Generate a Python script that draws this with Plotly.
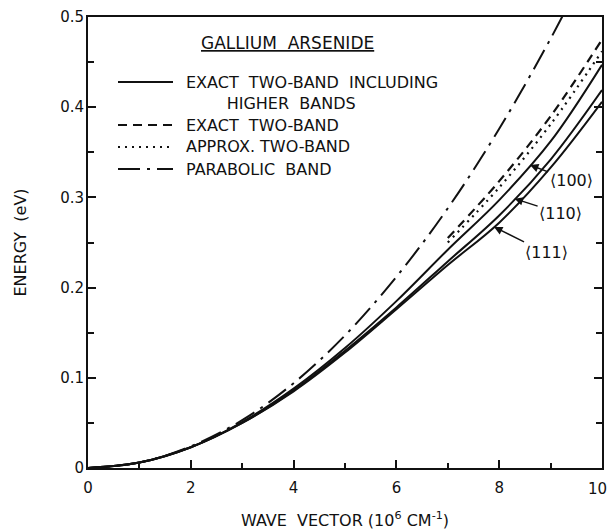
import numpy as np
import plotly.graph_objects as go

# ---- data ----
k_parabolic = [0, 1, 2, 3, 4, 5, 6, 7, 8, 9, 9.5]
e_parabolic = [0, 0.006, 0.024, 0.053, 0.094, 0.147, 0.212, 0.288, 0.376, 0.476, 0.531]

k_dir = [0, 1, 2, 3, 4, 5, 6, 7, 8, 9, 10]
e_100 = [0, 0.006, 0.023, 0.051, 0.088, 0.133, 0.185, 0.242, 0.297, 0.362, 0.447]
e_110 = [0, 0.006, 0.023, 0.050, 0.086, 0.130, 0.178, 0.229, 0.280, 0.342, 0.419]
e_111 = [0, 0.006, 0.023, 0.050, 0.085, 0.128, 0.176, 0.225, 0.272, 0.333, 0.406]

k_two = [7, 8, 9, 10]
e_exact_two = [0.255, 0.318, 0.390, 0.475]
e_approx_two = [0.250, 0.311, 0.381, 0.462]

dir_labels = ["⟨100⟩", "⟨110⟩", "⟨111⟩"]
dir_k = [8.6, 8.3, 7.9]

x_ticks = [0, 2, 4, 6, 8, 10]
x_tick_labels = ["0", "2", "4", "6", "8", "10"]
y_ticks = [0, 0.1, 0.2, 0.3, 0.4, 0.5]

legend_title = "GALLIUM  ARSENIDE"
legend_labels = ["EXACT  TWO-BAND  INCLUDING", "EXACT  TWO-BAND",
                 "APPROX. TWO-BAND", "PARABOLIC  BAND"]
legend_label_cont = "HIGHER  BANDS"

FONT = "DejaVu Sans"
INK = "#111111"
NB = "\u00a0"

DASH_SOLID = "solid"
DASH_EXACT = "9px,6px"
DASH_APPROX = "2px,5px"
DASH_PARAB = "22px,7px,3px,7px"

fig = go.Figure()

fig.add_trace(go.Scatter(
    x=k_parabolic, y=e_parabolic, mode="lines", name=legend_labels[3],
    line=dict(color=INK, width=2, dash=DASH_PARAB, shape="spline"),
    showlegend=False))
fig.add_trace(go.Scatter(
    x=k_two, y=e_exact_two, mode="lines", name=legend_labels[1],
    line=dict(color=INK, width=2.2, dash=DASH_EXACT, shape="spline"),
    showlegend=False))
fig.add_trace(go.Scatter(
    x=k_two, y=e_approx_two, mode="lines", name=legend_labels[2],
    line=dict(color=INK, width=2.2, dash=DASH_APPROX, shape="spline"),
    showlegend=False))
for lab, e in zip(dir_labels, [e_100, e_110, e_111]):
    fig.add_trace(go.Scatter(
        x=k_dir, y=e, mode="lines", name=legend_labels[0] + " " + lab,
        line=dict(color=INK, width=2, shape="spline"), showlegend=False))

# direction labels with arrows pointing at the curves
offsets = [(41, 16), (46, 15), (52, 26)]
for lab, kk, e, (ax, ay) in zip(dir_labels, dir_k, [e_100, e_110, e_111], offsets):
    fig.add_annotation(
        x=kk, y=float(np.interp(kk, k_dir, e)), text=lab,
        showarrow=True, arrowhead=2, arrowsize=1.2, arrowwidth=1.4,
        arrowcolor=INK, ax=ax, ay=ay, xanchor="center", yanchor="middle",
        font=dict(family=FONT, size=16, color=INK))

# ---- key drawn inside the plot (paper coordinates) ----
def px_x(p):
    return (p - 88) / 514.0

def px_y(p):
    return (468 - p) / 451.0

KEY_FONT = 16

fig.add_annotation(
    xref="paper", yref="paper", x=px_x(287), y=px_y(43), text=legend_title,
    showarrow=False, xanchor="center", yanchor="middle",
    font=dict(family=FONT, size=17, color=INK, lineposition="under"))

key_rows_y = [82, 125, 147, 169]
key_dashes = [DASH_SOLID, DASH_EXACT, DASH_APPROX, DASH_PARAB]
key_texts = [legend_labels[0] + "<br>" + NB * 8 + legend_label_cont] + legend_labels[1:]
for i, (txt, dash, ry) in enumerate(zip(key_texts, key_dashes, key_rows_y)):
    fig.add_shape(type="line", xref="paper", yref="paper",
                  x0=px_x(118), x1=px_x(173), y0=px_y(ry), y1=px_y(ry),
                  line=dict(color=INK, width=2.2, dash=dash))
    fig.add_annotation(
        xref="paper", yref="paper", x=px_x(185),
        y=px_y(ry - 10) if i == 0 else px_y(ry), text=txt, align="left",
        showarrow=False, xanchor="left", yanchor="top" if i == 0 else "middle",
        borderpad=0, font=dict(family=FONT, size=KEY_FONT, color=INK))

# last x tick label sits at the page edge: draw it nudged inward so it is not cut
fig.add_annotation(
    x=x_ticks[-1], xref="x", y=0, yref="paper", text=x_tick_labels[-1],
    showarrow=False, xanchor="center", yanchor="middle", xshift=-5, yshift=-21,
    font=dict(family=FONT, size=15, color=INK))

axis_common = dict(
    showline=True, linecolor=INK, linewidth=2, ticks="inside",
    tickcolor=INK, tickwidth=1.5, ticklen=8, showgrid=False, zeroline=False,
    tickfont=dict(family=FONT, size=15, color=INK), automargin=False,
)

fig.update_xaxes(
    range=[0, 10], tickvals=x_ticks, ticktext=x_tick_labels[:-1] + [""], mirror=True,
    ticklabelstandoff=5,
    minor=dict(dtick=1, ticks="inside", ticklen=5, tickcolor=INK, tickwidth=1.5),
    title=dict(text="WAVE  VECTOR (10<sup>6</sup> CM<sup>-1</sup>)",
               font=dict(family=FONT, size=16, color=INK), standoff=22),
    **axis_common)
fig.update_yaxes(
    range=[0, 0.5], tickvals=y_ticks, mirror="ticks",
    minor=dict(dtick=0.05, ticks="inside", ticklen=6, tickcolor=INK, tickwidth=1.5),
    ticklabelstandoff=-1,
    title=dict(text="ENERGY  (eV)",
               font=dict(family=FONT, size=16, color=INK), standoff=30),
    **axis_common)

fig.update_layout(
    width=607, height=530,
    margin=dict(l=88, r=5, t=17, b=62),
    paper_bgcolor="white", plot_bgcolor="white",
    font=dict(family=FONT, size=15, color=INK),
    showlegend=False,
)

fig.write_html("out.html")
